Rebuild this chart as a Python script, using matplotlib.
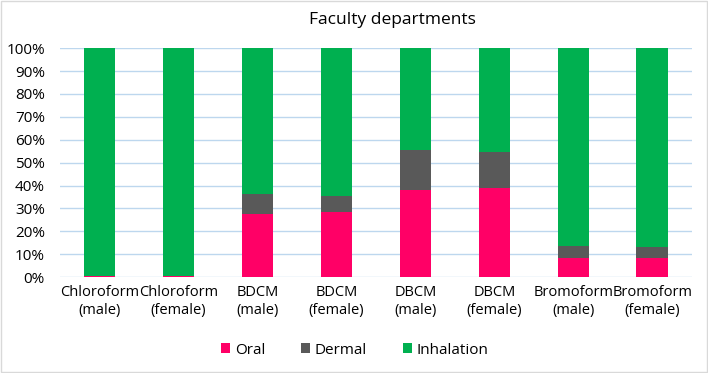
import matplotlib
matplotlib.use("Agg")
import matplotlib.pyplot as plt
from matplotlib.ticker import PercentFormatter, MultipleLocator
from matplotlib.patches import Rectangle

categories = ["Chloroform\n(male)", "Chloroform\n(female)", "BDCM\n(male)", "BDCM\n(female)",
              "DBCM\n(male)", "DBCM\n(female)", "Bromoform\n(male)", "Bromoform\n(female)"]
oral = [0.4, 0.4, 27.5, 28.3, 38.0, 38.8, 8.3, 8.2]
dermal = [0.2, 0.2, 8.8, 7.2, 17.6, 15.9, 5.2, 4.9]
inhalation = [100 - o - d for o, d in zip(oral, dermal)]

plt.rcParams['font.family'] = ['Open Sans', 'DejaVu Sans']
fig = plt.figure(figsize=(7.08, 3.73), dpi=100)
ax = fig.add_axes([0.085, 0.257, 0.892, 0.614])

colors = {"Oral": "#FF0066", "Dermal": "#595959", "Inhalation": "#00B050"}
x = range(len(categories))
w = 0.4
ax.bar(x, oral, w, color=colors["Oral"], label="Oral", zorder=3)
ax.bar(x, dermal, w, bottom=oral, color=colors["Dermal"], label="Dermal", zorder=3)
bot2 = [o + d for o, d in zip(oral, dermal)]
ax.bar(x, inhalation, w, bottom=bot2, color=colors["Inhalation"], label="Inhalation", zorder=3)

ax.set_xlim(-0.5, len(categories) - 0.5)
ax.set_ylim(0, 100)
ax.yaxis.set_major_locator(MultipleLocator(10))
ax.yaxis.set_major_formatter(PercentFormatter(decimals=0))
ax.grid(axis='y', color='#BDD7EE', linewidth=1, zorder=0)
for s in ax.spines.values():
    s.set_visible(False)
ax.tick_params(axis='both', length=0, colors='black')
ax.tick_params(axis='y', pad=11, labelsize=11)
ax.tick_params(axis='x', pad=6)
ax.set_xticks(list(x))
ax.set_xticklabels(categories, fontsize=10.5, linespacing=1.2)

fig.text(392 / 708, 1 - 20 / 373, "Faculty departments", ha='center', va='center', fontsize=12.5)
leg = fig.legend(loc='center', bbox_to_anchor=(355 / 708, 1 - 350 / 373), ncol=3, frameon=False,
                 fontsize=11, handlelength=0.55, handleheight=0.55, columnspacing=2.35,
                 handletextpad=0.35)

fig.patches.append(Rectangle((0.002, 0.003), 0.996, 0.994, transform=fig.transFigure,
                             fill=False, edgecolor='#D9D9D9', linewidth=1))
fig.savefig("out.png", dpi=100)
